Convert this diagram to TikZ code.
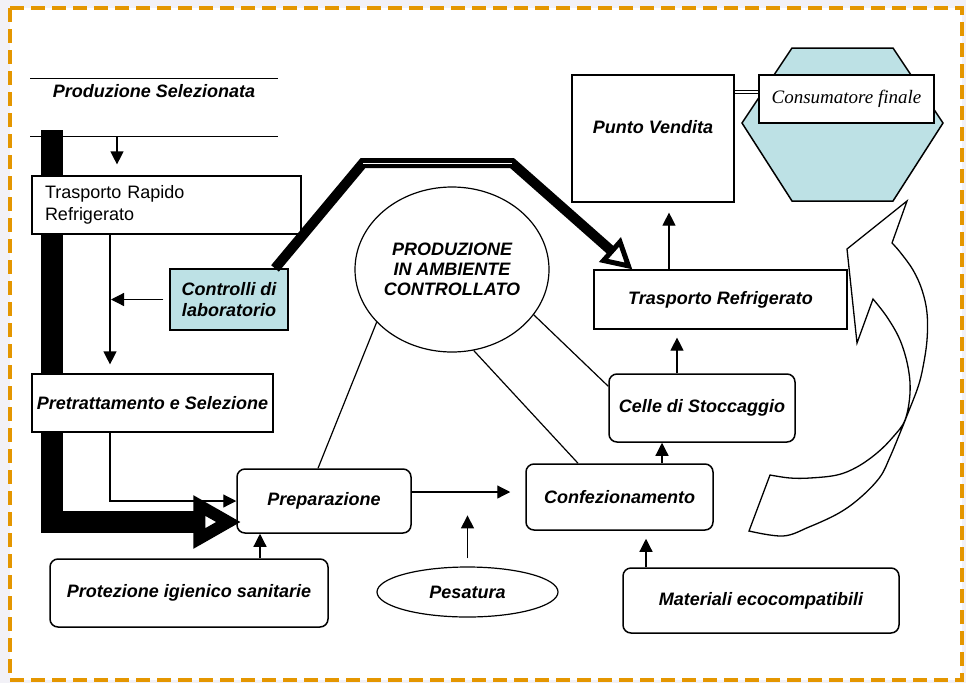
\documentclass[tikz,border=0pt]{standalone}
\usepackage{fontspec}
\setmainfont{Liberation Sans}
\newfontfamily\timesfont{Liberation Serif}
\usetikzlibrary{arrows.meta, shapes.geometric}

\definecolor{paleblue}{RGB}{189,225,229}
\definecolor{frameorange}{RGB}{228,150,0}
\definecolor{pagegray}{RGB}{242,241,247}

\begin{document}
\begin{tikzpicture}[
    x=1pt, y=-1pt,
    box/.style={draw, line width=1.2pt, fill=white, inner sep=0pt, align=center,
        font=\fontsize{18}{21}\selectfont\bfseries\itshape},
    roundbox/.style={box, rounded corners=8pt, line width=1.5pt},
    arrow/.style={-{Triangle[length=13pt, width=13pt]}, line width=1.2pt},
    link/.style={line width=1.2pt},
    bar/.style={line width=22pt, -{Triangle[open, length=48pt, width=50pt, line width=14pt]}},
    heavy/.style={line width=10pt, -{Triangle[open, length=30pt, width=32pt, line width=5pt]}},
    frame/.style={frameorange, line width=4.5pt, dash pattern=on 14pt off 7pt}
]
    \useasboundingbox (0,0) rectangle (966,683);
    \fill[pagegray] (0,0) rectangle (966,683);
    \fill[white] (10,8) rectangle (962,680);
    \draw[frame] (10,8) rectangle (962,680);

    \node[box, draw=none, fill=none, minimum width=246pt, minimum height=24pt] (sel) at (154,91) {Produzione Selezionata};
    \draw[line width=1.5pt] (sel.north west) -- (sel.north east);
    \draw[line width=0.8pt] ([yshift=-33pt]sel.south west) -- ([yshift=-33pt]sel.south east);

    \node[roundbox, minimum width=174pt, minimum height=64pt] (prep) at (324,501) {Preparazione};

    % thick supply line behind the first boxes
    \coordinate (barstart) at (52,130);
    \coordinate (barcorner) at (52,522);
    \draw[bar] (barstart) -- (barcorner) -- ([xshift=5pt,yshift=-21pt]prep.west);

    \node[box, font=\fontsize{18}{22}\selectfont, text width=243pt, align=left,
          minimum width=269pt, minimum height=58pt] (rapido) at (166.5,205) {Trasporto Rapido\\Refrigerato};
    \node[box, minimum width=241pt, minimum height=58pt] (pretr) at (152.5,403) {Pretrattamento e Selezione};
    \node[box, fill=paleblue, minimum width=118pt, minimum height=61pt] (lab) at (229,299.5) {Controlli di\\laboratorio};
    \node[roundbox, minimum width=278pt, minimum height=68pt] (prot) at (189,593) {Protezione igienico sanitarie};
    \node[box, ellipse, minimum width=181pt, minimum height=50pt] (pes) at (467.5,592) {Pesatura};
    \node[roundbox, minimum width=187pt, minimum height=66pt] (conf) at (619.5,497) {Confezionamento};
    \node[roundbox, minimum width=276pt, minimum height=65pt] (mat) at (761,600.5) {Materiali ecocompatibili};
    \node[roundbox, minimum width=186pt, minimum height=68pt] (celle) at (702,408) {Celle di Stoccaggio};
    \node[box, minimum width=253pt, minimum height=59pt] (refr) at (720.5,299.5) {Trasporto Refrigerato};
    \node[box, minimum width=162pt, minimum height=127pt, text depth=23pt] (punto) at (653,138.5) {Punto Vendita};
    \node[box, ellipse, minimum width=194pt, minimum height=165pt, font=\fontsize{18}{20}\selectfont\bfseries\itshape] (prod) at (452,269.5) {PRODUZIONE\\IN AMBIENTE\\CONTROLLATO};

    \filldraw[fill=paleblue, line width=1.5pt] (742,123) -- (792,48) -- (893,48) -- (943,123) -- (893,201) -- (792,201) -- cycle;
    \node[box, font=\timesfont\itshape\fontsize{19}{22}\selectfont, minimum width=175pt, minimum height=48pt] (cons) at (846.5,99) {Consumatore finale};
    \coordinate (consin) at ([yshift=7pt]cons.west);
    \draw[double=white, double distance=1.2pt, line width=1.3pt] (consin) -- (consin -| punto.east);

    \draw[arrow, shorten >=11pt] ([xshift=-37pt,yshift=-33pt]sel.south) coordinate (a1) -- (a1 |- rapido.north);
    \draw[arrow, shorten >=9pt] ([xshift=-56.5pt]rapido.south) coordinate (a2) -- (a2 |- pretr.north);
    \draw[arrow, shorten <=6pt, shorten >=1pt] (lab.west) -- (lab.west -| a2);
    \draw[arrow] ([xshift=-42.5pt]pretr.south) |- (prep.west);
    \draw[arrow] ([xshift=71pt]prot.north) coordinate (a3) -- (a3 |- prep.south);
    \draw[arrow, shorten >=15pt] ([yshift=9pt]prep.east) coordinate (a4) -- (a4 -| conf.west);
    \draw[arrow, shorten <=8pt] (pes.north) -- ++(0,-51);
    \draw[arrow, shorten >=8pt] ([xshift=-115pt]mat.north) coordinate (a5) -- (a5 |- conf.south);
    \draw[arrow] ([xshift=42.5pt]conf.north) coordinate (a6) -- (a6 |- celle.south);
    \draw[arrow, shorten >=8pt] ([xshift=-25pt]celle.north) coordinate (a7) -- (a7 |- refr.south);
    \draw[arrow, shorten >=10pt] ([xshift=-51.5pt]refr.north) coordinate (a8) -- (a8 |- punto.south);

    \draw[link] (prod.215.8) -- ([xshift=-6pt]prep.north);
    \draw[link] (prod.285.5) -- ([xshift=-41.5pt]conf.north);
    \draw[link] (prod.331) -- ([yshift=-13pt]celle.north west);

    \coordinate (bendL) at (363,163);
    \coordinate (bendR) at (512,163);
    \draw[heavy] ([xshift=46pt]lab.north) -- (bendL) -- (bendR) -- ([xshift=39pt]refr.north west);
    \draw[white, line width=0.6pt] (bendL) -- (bendR);

    % curved return arrow
    \draw[line width=1.3pt] plot[smooth, tension=0.6] coordinates {(770,475) (790,478) (810,478) (837,475) (857,467) (877,453) (893,437) (905,420) (910,393) (908,367) (900,340) (887,317) (873,299)}
        -- (857,343) -- (847,249) -- (907,201) -- (892,243)
        -- plot[smooth, tension=0.6] coordinates {(892,243) (900,252) (913,270) (922,290) (927,313) (927,340) (923,367) (918,387) (908,413) (900,433) (890,457) (880,477) (861,497) (839,513) (809,527) (783,536) (749,531)}
        -- cycle;
\end{tikzpicture}
\end{document}
